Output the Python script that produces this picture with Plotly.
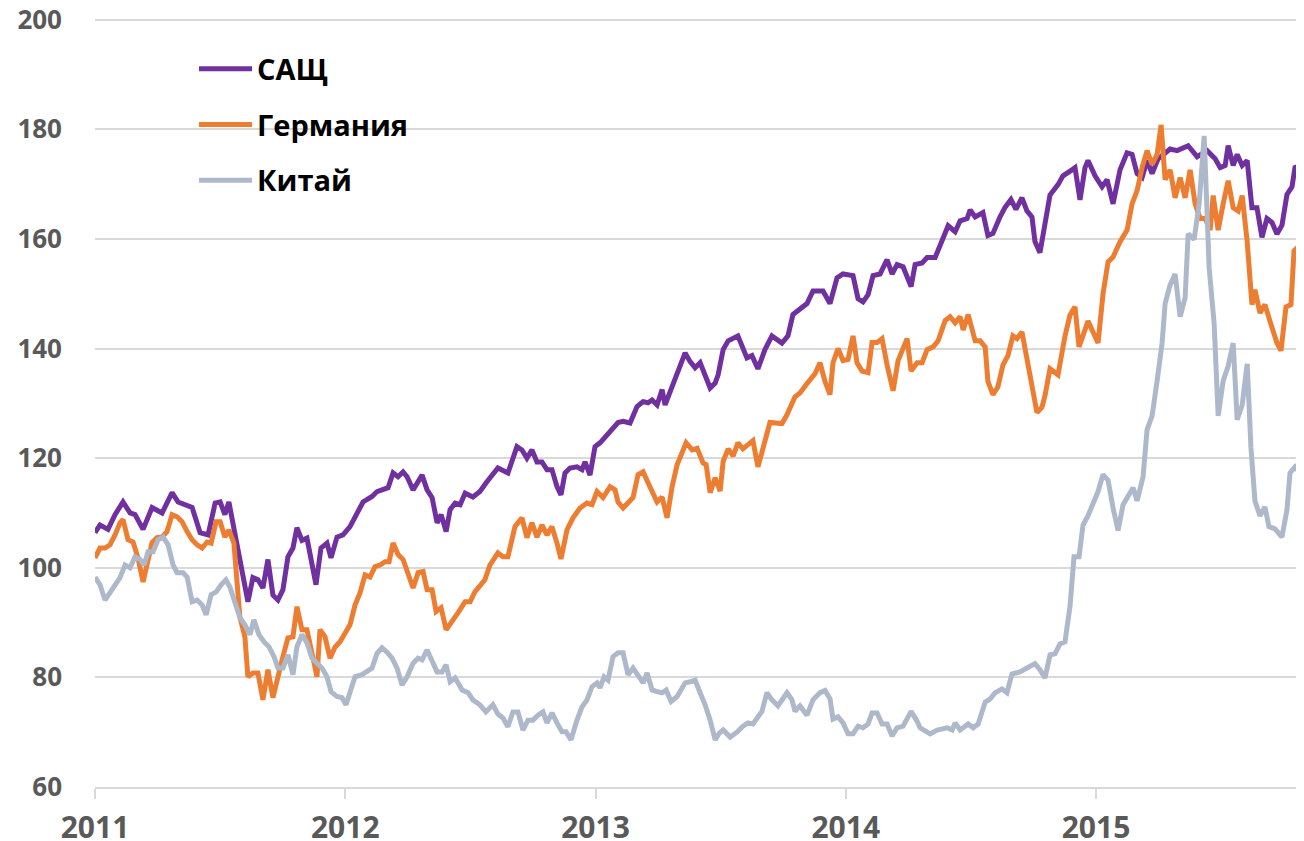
import plotly.graph_objects as go

# ---------------- data (years since 1 Jan 2011, index value) ----------------
usa_t = [0.000, 0.020, 0.052, 0.080, 0.112, 0.140, 0.160, 0.192, 0.228, 0.268,
         0.308, 0.332, 0.388, 0.420, 0.452, 0.480, 0.500, 0.519, 0.535, 0.567,
         0.591, 0.611, 0.631, 0.651, 0.671, 0.691, 0.711, 0.731, 0.751, 0.771,
         0.791, 0.807, 0.827, 0.847, 0.883, 0.903, 0.927, 0.943, 0.967, 0.991,
         1.019, 1.047, 1.071, 1.107, 1.127, 1.171, 1.191, 1.211, 1.231, 1.247,
         1.271, 1.307, 1.327, 1.347, 1.367, 1.383, 1.403, 1.419, 1.439, 1.459,
         1.479, 1.510, 1.538, 1.566, 1.610, 1.650, 1.686, 1.706, 1.726, 1.746,
         1.766, 1.786, 1.806, 1.826, 1.846, 1.862, 1.878, 1.898, 1.926, 1.946,
         1.958, 1.978, 1.998, 2.018, 2.038, 2.066, 2.090, 2.110, 2.138, 2.166,
         2.190, 2.210, 2.226, 2.246, 2.266, 2.278, 2.298, 2.318, 2.338, 2.358,
         2.378, 2.398, 2.418, 2.438, 2.458, 2.478, 2.490, 2.510, 2.530, 2.569,
         2.605, 2.625, 2.649, 2.677, 2.705, 2.745, 2.769, 2.789, 2.817, 2.845,
         2.869, 2.909, 2.937, 2.965, 2.989, 3.029, 3.049, 3.069, 3.089, 3.109,
         3.137, 3.165, 3.185, 3.205, 3.229, 3.261, 3.277, 3.305, 3.325, 3.357,
         3.385, 3.409, 3.437, 3.457, 3.485, 3.497, 3.517, 3.548, 3.568, 3.588,
         3.616, 3.636, 3.660, 3.680, 3.704, 3.724, 3.744, 3.756, 3.776, 3.796,
         3.816, 3.848, 3.868, 3.904, 3.916, 3.936, 3.956, 3.968, 3.996, 4.024,
         4.044, 4.068, 4.096, 4.124, 4.144, 4.164, 4.184, 4.204, 4.224, 4.248,
         4.296, 4.324, 4.368, 4.404, 4.444, 4.476, 4.496, 4.516, 4.528, 4.548,
         4.564, 4.584, 4.604, 4.623, 4.643, 4.663, 4.683, 4.703, 4.723, 4.743,
         4.763, 4.783, 4.795, 4.823, 4.831]
usa_v = [106.4, 107.8, 107.0, 109.7, 112.0, 110.0, 109.7, 107.0, 111.0, 110.0,
         113.7, 112.0, 111.0, 106.4, 106.0, 111.8, 112.0, 109.7, 112.0, 103.8,
         98.3, 93.8, 98.2, 97.8, 96.3, 101.5, 95.0, 94.1, 96.0, 102.0,
         103.6, 107.3, 105.0, 105.4, 96.9, 103.6, 104.5, 101.8, 105.6, 106.0,
         107.5, 109.7, 112.0, 113.0, 113.9, 114.6, 117.3, 116.6, 117.5, 116.6,
         114.2, 116.9, 114.2, 112.8, 108.2, 109.7, 106.6, 110.6, 111.8, 111.5,
         113.6, 112.9, 113.9, 115.7, 118.2, 117.3, 122.1, 121.5, 120.0, 121.5,
         119.3, 119.3, 117.9, 117.9, 114.8, 113.3, 117.3, 118.2, 118.4, 117.9,
         119.3, 116.9, 122.1, 122.8, 123.9, 125.5, 126.5, 126.7, 126.4, 129.4,
         130.3, 130.1, 130.6, 129.7, 132.5, 129.7, 132.1, 134.7, 136.5, 139.2,
         137.6, 136.5, 137.4, 135.2, 132.8, 133.7, 135.2, 139.8, 141.4, 142.3,
         138.3, 138.7, 136.3, 139.8, 142.3, 141.0, 142.3, 146.2, 147.1, 148.2,
         150.5, 150.5, 148.2, 152.9, 153.6, 153.3, 149.1, 148.5, 149.8, 153.3,
         153.6, 156.2, 153.6, 155.3, 154.9, 151.3, 155.3, 155.6, 156.6, 156.6,
         159.7, 162.4, 161.3, 163.3, 163.7, 165.3, 164.0, 164.8, 160.6, 161.0,
         164.0, 165.7, 167.2, 165.4, 167.5, 165.1, 164.0, 159.5, 157.5, 163.0,
         168.0, 169.9, 171.5, 172.6, 173.0, 167.1, 173.0, 174.3, 171.5, 169.5,
         170.8, 166.4, 172.6, 175.7, 175.4, 171.9, 171.2, 174.3, 171.9, 174.6,
         176.4, 176.1, 177.0, 175.0, 176.1, 174.6, 173.0, 173.4, 177.0, 173.4,
         175.4, 173.4, 174.3, 165.7, 165.7, 160.3, 163.7, 163.0, 160.9, 162.5,
         168.1, 169.5, 173.0, 173.5, 175.0]

ger_t = [0.000, 0.020, 0.040, 0.060, 0.080, 0.100, 0.112, 0.132, 0.152, 0.172,
         0.192, 0.212, 0.228, 0.248, 0.268, 0.288, 0.308, 0.328, 0.348, 0.368,
         0.388, 0.408, 0.428, 0.448, 0.464, 0.484, 0.500, 0.519, 0.535, 0.555,
         0.567, 0.579, 0.599, 0.611, 0.631, 0.651, 0.671, 0.691, 0.711, 0.731,
         0.751, 0.771, 0.791, 0.807, 0.827, 0.847, 0.871, 0.887, 0.899, 0.919,
         0.939, 0.959, 0.979, 0.999, 1.019, 1.039, 1.059, 1.079, 1.099, 1.119,
         1.139, 1.159, 1.175, 1.191, 1.211, 1.231, 1.247, 1.271, 1.291, 1.311,
         1.327, 1.347, 1.363, 1.383, 1.403, 1.427, 1.451, 1.479, 1.499, 1.518,
         1.558, 1.578, 1.610, 1.630, 1.650, 1.678, 1.706, 1.726, 1.746, 1.766,
         1.786, 1.806, 1.826, 1.846, 1.862, 1.886, 1.910, 1.938, 1.966, 1.986,
         2.006, 2.030, 2.058, 2.078, 2.090, 2.110, 2.130, 2.150, 2.170, 2.190,
         2.210, 2.246, 2.266, 2.286, 2.306, 2.326, 2.362, 2.386, 2.406, 2.430,
         2.442, 2.458, 2.478, 2.498, 2.510, 2.530, 2.550, 2.569, 2.589, 2.629,
         2.649, 2.669, 2.697, 2.745, 2.765, 2.797, 2.817, 2.845, 2.877, 2.897,
         2.917, 2.937, 2.949, 2.969, 2.989, 3.009, 3.029, 3.045, 3.065, 3.089,
         3.105, 3.125, 3.145, 3.165, 3.189, 3.209, 3.245, 3.261, 3.285, 3.305,
         3.325, 3.349, 3.369, 3.397, 3.417, 3.437, 3.457, 3.469, 3.489, 3.517,
         3.537, 3.557, 3.568, 3.588, 3.608, 3.628, 3.648, 3.668, 3.684, 3.704,
         3.724, 3.744, 3.764, 3.784, 3.796, 3.816, 3.848, 3.876, 3.896, 3.916,
         3.932, 3.968, 4.008, 4.028, 4.048, 4.068, 4.096, 4.124, 4.144, 4.164,
         4.184, 4.204, 4.224, 4.244, 4.260, 4.276, 4.296, 4.316, 4.336, 4.356,
         4.376, 4.396, 4.416, 4.436, 4.456, 4.468, 4.488, 4.508, 4.528, 4.548,
         4.568, 4.584, 4.604, 4.623, 4.635, 4.655, 4.675, 4.695, 4.723, 4.739,
         4.759, 4.779, 4.791, 4.807, 4.831]
ger_v = [101.8, 103.6, 103.6, 104.2, 106.0, 108.2, 108.8, 105.1, 104.7, 101.8,
         97.4, 101.5, 104.6, 105.5, 105.6, 106.6, 109.7, 109.3, 108.4, 106.6,
         105.1, 104.2, 103.6, 104.7, 104.5, 108.4, 108.4, 105.6, 106.9, 104.5,
         98.3, 91.0, 87.4, 80.1, 80.8, 80.8, 75.9, 81.4, 76.3, 80.5,
         83.8, 87.2, 87.4, 92.9, 88.7, 88.7, 83.8, 80.1, 88.7, 87.4,
         83.5, 85.5, 86.5, 88.1, 89.6, 93.2, 95.4, 98.7, 98.3, 100.2,
         100.5, 101.1, 101.1, 104.5, 102.4, 101.5, 99.6, 96.3, 99.1, 99.3,
         96.0, 96.0, 92.0, 92.7, 88.7, 90.1, 91.8, 93.8, 93.8, 95.6,
         97.8, 100.5, 102.7, 102.0, 102.0, 107.5, 109.1, 105.5, 108.2, 105.6,
         107.8, 106.0, 107.5, 104.5, 101.6, 106.9, 109.1, 110.9, 111.8, 111.5,
         113.9, 112.8, 114.8, 114.2, 112.0, 110.9, 112.0, 112.8, 117.0, 117.5,
         115.5, 112.0, 112.9, 109.1, 114.8, 118.8, 122.8, 121.5, 121.8, 119.1,
         118.8, 113.7, 116.4, 114.0, 119.4, 121.7, 120.4, 122.8, 121.7, 123.2,
         118.4, 121.5, 126.5, 126.3, 127.9, 131.2, 131.9, 133.6, 135.4, 137.4,
         134.0, 131.6, 137.4, 140.0, 137.8, 138.0, 142.3, 137.4, 135.9, 135.6,
         141.1, 141.1, 141.8, 137.0, 132.3, 137.8, 141.8, 135.9, 137.4, 137.4,
         139.8, 140.3, 141.4, 145.1, 145.8, 144.7, 145.8, 143.4, 146.2, 141.4,
         141.4, 140.3, 134.0, 131.6, 133.0, 137.0, 138.7, 142.3, 141.8, 143.0,
         138.3, 133.5, 128.3, 129.3, 131.4, 136.3, 135.2, 142.3, 146.1, 147.6,
         140.3, 145.0, 141.0, 150.0, 155.8, 156.7, 159.5, 161.6, 166.4, 168.8,
         173.0, 176.1, 173.6, 175.4, 180.8, 170.8, 172.6, 167.5, 171.2, 167.5,
         172.6, 166.4, 163.7, 163.7, 161.6, 167.9, 161.6, 166.4, 170.6, 165.7,
         165.1, 167.9, 159.5, 148.0, 150.7, 146.5, 148.0, 145.0, 141.0, 139.6,
         147.6, 148.0, 157.8, 158.5, 160.9]

chn_t = [0.000, 0.020, 0.040, 0.060, 0.080, 0.100, 0.120, 0.140, 0.160, 0.180,
         0.196, 0.212, 0.232, 0.252, 0.272, 0.292, 0.312, 0.328, 0.352, 0.368,
         0.388, 0.408, 0.428, 0.444, 0.464, 0.484, 0.504, 0.523, 0.539, 0.559,
         0.579, 0.599, 0.619, 0.635, 0.655, 0.675, 0.695, 0.715, 0.731, 0.751,
         0.771, 0.791, 0.807, 0.827, 0.847, 0.867, 0.887, 0.907, 0.927, 0.943,
         0.967, 0.987, 1.003, 1.019, 1.039, 1.067, 1.087, 1.107, 1.127, 1.147,
         1.167, 1.187, 1.207, 1.227, 1.247, 1.259, 1.271, 1.291, 1.307, 1.327,
         1.347, 1.367, 1.387, 1.403, 1.419, 1.439, 1.467, 1.491, 1.510, 1.538,
         1.562, 1.590, 1.610, 1.630, 1.650, 1.670, 1.690, 1.710, 1.730, 1.750,
         1.770, 1.790, 1.806, 1.826, 1.846, 1.866, 1.882, 1.902, 1.926, 1.946,
         1.966, 1.986, 2.006, 2.018, 2.034, 2.050, 2.070, 2.090, 2.110, 2.130,
         2.150, 2.170, 2.190, 2.206, 2.226, 2.246, 2.266, 2.282, 2.302, 2.326,
         2.358, 2.378, 2.398, 2.418, 2.438, 2.458, 2.478, 2.494, 2.510, 2.538,
         2.565, 2.589, 2.609, 2.629, 2.665, 2.685, 2.705, 2.729, 2.765, 2.785,
         2.797, 2.817, 2.845, 2.869, 2.897, 2.917, 2.937, 2.949, 2.969, 2.989,
         3.009, 3.029, 3.049, 3.069, 3.089, 3.105, 3.125, 3.145, 3.165, 3.185,
         3.205, 3.229, 3.261, 3.285, 3.297, 3.337, 3.365, 3.405, 3.425, 3.437,
         3.457, 3.489, 3.509, 3.529, 3.557, 3.577, 3.597, 3.624, 3.644, 3.664,
         3.696, 3.724, 3.756, 3.776, 3.796, 3.816, 3.836, 3.856, 3.876, 3.896,
         3.912, 3.932, 3.948, 3.968, 3.988, 4.008, 4.028, 4.048, 4.068, 4.088,
         4.108, 4.128, 4.148, 4.164, 4.188, 4.204, 4.224, 4.244, 4.264, 4.276,
         4.296, 4.316, 4.336, 4.356, 4.368, 4.392, 4.412, 4.432, 4.452, 4.472,
         4.488, 4.508, 4.528, 4.548, 4.564, 4.584, 4.604, 4.619, 4.635, 4.655,
         4.675, 4.691, 4.715, 4.743, 4.763, 4.775, 4.795, 4.815, 4.831]
chn_v = [98.3, 96.9, 94.1, 95.4, 96.9, 98.2, 100.5, 100.0, 102.0, 101.5,
         100.5, 102.9, 102.9, 105.1, 105.6, 104.2, 100.5, 99.1, 99.1, 98.3,
         93.8, 94.1, 93.2, 91.4, 95.1, 95.6, 96.9, 97.8, 96.5, 93.8,
         90.9, 89.6, 87.8, 90.5, 87.8, 86.5, 85.6, 83.8, 81.7, 81.7,
         84.1, 80.5, 85.6, 87.8, 86.3, 83.5, 82.6, 81.7, 80.1, 77.4,
         76.5, 76.3, 75.0, 77.2, 80.1, 80.5, 81.0, 81.7, 84.4, 85.4,
         84.6, 83.5, 81.7, 78.6, 80.1, 81.2, 82.6, 83.5, 83.2, 85.0,
         82.8, 81.0, 81.0, 82.3, 79.2, 79.9, 77.7, 77.2, 75.9, 75.0,
         73.7, 75.0, 73.3, 72.6, 71.0, 73.7, 73.7, 70.4, 72.2, 72.2,
         73.1, 73.7, 71.7, 73.5, 71.7, 70.1, 70.1, 68.6, 72.2, 74.6,
         75.9, 78.3, 79.0, 78.1, 80.1, 79.5, 83.8, 84.5, 84.5, 80.5,
         81.7, 80.5, 79.0, 80.8, 77.7, 77.4, 77.2, 77.7, 75.6, 76.5,
         79.0, 79.2, 79.5, 77.2, 75.0, 72.2, 68.6, 69.8, 70.4, 69.1,
         70.0, 71.1, 71.7, 71.5, 73.8, 77.2, 75.9, 74.8, 77.2, 75.9,
         73.8, 74.8, 73.1, 75.9, 77.2, 77.6, 76.1, 72.4, 72.8, 71.7,
         69.7, 69.7, 71.1, 70.8, 71.5, 73.5, 73.5, 71.5, 71.5, 69.3,
         70.8, 71.1, 73.8, 72.0, 70.8, 69.7, 70.4, 70.8, 70.4, 71.7,
         70.4, 71.5, 70.8, 71.5, 75.5, 76.1, 77.2, 77.9, 77.2, 80.6,
         81.0, 81.7, 82.5, 81.4, 79.9, 84.1, 84.3, 86.1, 86.5, 93.0,
         102.0, 102.0, 107.8, 109.5, 111.8, 113.9, 117.0, 116.0, 110.9, 106.8,
         111.5, 112.9, 114.6, 112.2, 116.6, 125.2, 127.7, 134.1, 141.0, 148.2,
         151.6, 153.6, 145.8, 149.3, 160.9, 159.9, 166.4, 178.8, 154.7, 144.5,
         127.7, 134.1, 136.8, 141.0, 127.0, 129.7, 137.2, 121.9, 112.2, 109.5,
         111.1, 107.5, 107.1, 105.6, 110.6, 117.3, 118.4, 117.3, 124.7]

start_year = 2011
year_ticks = [2011, 2012, 2013, 2014, 2015]
y_ticks = [60, 80, 100, 120, 140, 160, 180, 200]

series = [
    ("САЩ", usa_t, usa_v, "#7030A0"),
    ("Германия", ger_t, ger_v, "#ED7D31"),
    ("Китай", chn_t, chn_v, "#ADB9CA"),
]

FONT = "Open Sans"
fig = go.Figure()
for name, t, v, col in series:
    fig.add_trace(go.Scatter(
        x=[start_year + a for a in t], y=v, mode="lines", name=name,
        legendgroup=name,
        line=dict(color=col, width=5),
    ))

fig.add_shape(type="rect", xref="paper", yref="paper", x0=0.038, x1=0.307,
              y0=0.746, y1=0.974, fillcolor="white", line=dict(width=0),
              layer="between")

# the page body has an 8px default margin, so the figure is shrunk by it
fig.update_layout(
    width=1296, height=833,
    margin=dict(l=87, r=0, t=10, b=54),
    paper_bgcolor="white", plot_bgcolor="white",
    showlegend=True,
    legend=dict(
        x=0.0819, y=0.967, xanchor="left", yanchor="top",
        bgcolor="rgba(0,0,0,0)", borderwidth=0,
        font=dict(family=FONT, size=29, color="#000000", weight="bold"),
        itemwidth=53, traceorder="grouped", tracegroupgap=15,
    ),
    xaxis=dict(
        range=[2011, 2015.831], tickmode="array", tickvals=year_ticks,
        ticktext=[str(y) for y in year_ticks],
        showgrid=False, zeroline=False, automargin=False,
        showline=True, linecolor="#D9D9D9", linewidth=2,
        ticks="outside", ticklen=10, tickwidth=1.5, tickcolor="#D9D9D9",
        tickfont=dict(family=FONT, size=30, color="#595959", weight="bold"),
        ticklabelstandoff=3, ticklabeloverflow="allow",
    ),
    yaxis=dict(
        range=[60, 200.3], tickmode="array", tickvals=y_ticks,
        showgrid=True, gridcolor="#D9D9D9", gridwidth=2,
        zeroline=False, showline=False, ticks="", automargin=False,
        tickfont=dict(family=FONT, size=26, color="#595959", weight="bold"),
        ticklabelstandoff=32, ticklabeloverflow="allow",
    ),
)

fig.write_html("out.html")
